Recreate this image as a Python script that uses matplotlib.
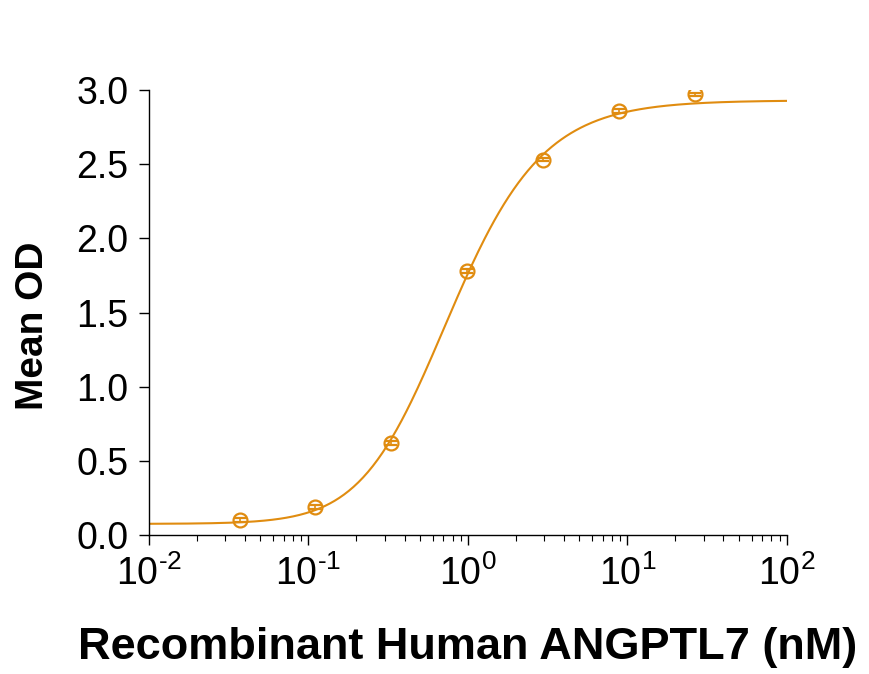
import numpy as np
import matplotlib
matplotlib.use('Agg')
import matplotlib.pyplot as plt
from matplotlib.ticker import LogLocator, NullFormatter, FixedLocator

plt.rcParams['font.family'] = ['Liberation Sans', 'DejaVu Sans']
plt.rcParams['mathtext.fontset'] = 'custom'
plt.rcParams['mathtext.rm'] = 'Liberation Sans'
plt.rcParams['mathtext.default'] = 'regular'

conc = [0.037, 0.11, 0.33, 0.99, 2.96, 8.9, 26.7]
mean_od = [0.10, 0.19, 0.62, 1.78, 2.53, 2.86, 2.97]
sem = [0.012, 0.012, 0.012, 0.012, 0.012, 0.012, 0.012]
xtick_labels = ['10$^{\u20102}$', '10$^{\u20101}$', '10$^{0}$', '10$^{1}$', '10$^{2}$']

# 5PL fit with bottom/top fixed, rest by coarse grid search
bottom, top = 0.075, 2.93
x = np.array(conc)
y = np.array(mean_od)
cs = np.logspace(-0.6, 0.6, 121)[:, None, None, None]
bs = np.arange(0.8, 2.6, 0.02)[None, :, None, None]
gs = np.arange(0.3, 3.0, 0.05)[None, None, :, None]
pred = bottom + (top - bottom) / (1 + (cs / x) ** bs) ** gs
err = ((pred - y) ** 2).sum(axis=-1)
i, j, k = np.unravel_index(np.argmin(err), err.shape)
c, b, g = cs.ravel()[i], bs.ravel()[j], gs.ravel()[k]

col = '#E08C10'

fig = plt.figure(figsize=(8.69, 6.74), dpi=100)
ax = fig.add_axes([0.1715, 0.2062, 0.734, 0.6603])

xs = np.logspace(-2, 2, 400)
ys = bottom + (top - bottom) / (1 + (c / xs) ** b) ** g
ax.plot(xs, ys, color=col, lw=1.5)
ax.errorbar(conc, mean_od, yerr=sem, fmt='o', mfc='none', mec=col, ecolor=col,
            ms=10, mew=1.6, capsize=4, elinewidth=1.2, capthick=1.5)

ax.set_xscale('log')
ax.set_xlim(1e-2, 1e2)
ax.set_ylim(0, 3.0)
ax.set_yticks([0, 0.5, 1.0, 1.5, 2.0, 2.5, 3.0])
ax.set_yticklabels(['0.0', '0.5', '1.0', '1.5', '2.0', '2.5', '3.0'])
ax.xaxis.set_major_locator(FixedLocator([1e-2, 1e-1, 1e0, 1e1, 1e2]))
ax.set_xticklabels(xtick_labels)
ax.xaxis.set_minor_locator(LogLocator(base=10, subs=np.arange(2, 10), numticks=20))
ax.xaxis.set_minor_formatter(NullFormatter())

ax.spines['top'].set_visible(False)
ax.spines['right'].set_visible(False)
for s in ['left', 'bottom']:
    ax.spines[s].set_linewidth(1.0)
ax.tick_params(axis='both', which='major', direction='out', length=7, width=1.0,
               labelsize=27, pad=8)
ax.tick_params(axis='x', which='minor', direction='out', length=4, width=0.8)

ax.set_xlabel('Recombinant Human ANGPTL7 (nM)', fontsize=32.5, fontweight='bold', labelpad=24)
ax.set_ylabel('Mean OD', fontsize=28, fontweight='bold', labelpad=18)
ax.yaxis.label.set_y(0.47)

fig.savefig('out.png', dpi=100)
